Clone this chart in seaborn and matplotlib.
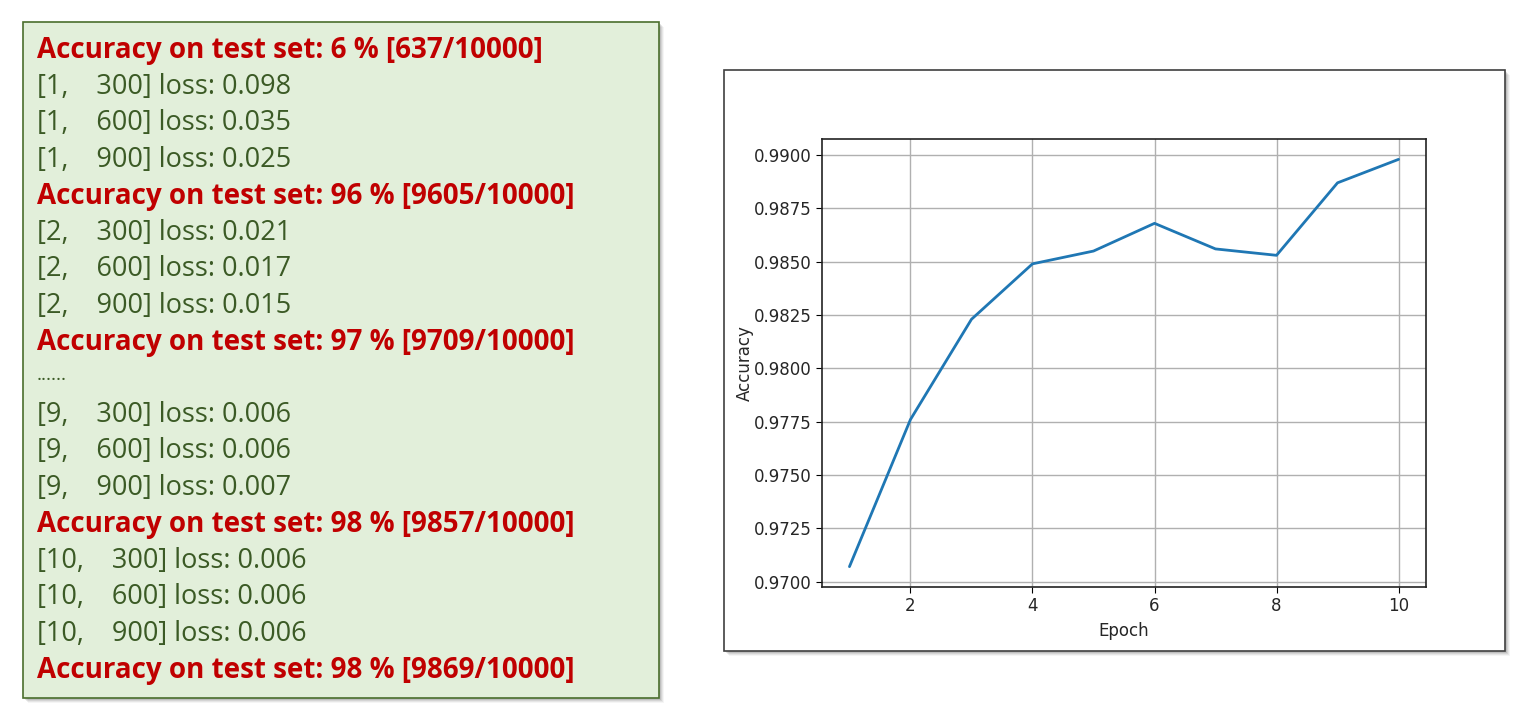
import matplotlib
matplotlib.use("Agg")
import matplotlib.pyplot as plt
import seaborn as sns
from matplotlib.patches import Rectangle

# Training log shown on the left
log_lines = [
    "Accuracy on test set: 6 % [637/10000]",
    "[1,    300] loss: 0.098",
    "[1,    600] loss: 0.035",
    "[1,    900] loss: 0.025",
    "Accuracy on test set: 96 % [9605/10000]",
    "[2,    300] loss: 0.021",
    "[2,    600] loss: 0.017",
    "[2,    900] loss: 0.015",
    "Accuracy on test set: 97 % [9709/10000]",
    "......",
    "[9,    300] loss: 0.006",
    "[9,    600] loss: 0.006",
    "[9,    900] loss: 0.007",
    "Accuracy on test set: 98 % [9857/10000]",
    "[10,    300] loss: 0.006",
    "[10,    600] loss: 0.006",
    "[10,    900] loss: 0.006",
    "Accuracy on test set: 98 % [9869/10000]",
]

# Accuracy curve
epochs = [1, 2, 3, 4, 5, 6, 7, 8, 9, 10]
accuracy = [0.9707, 0.9776, 0.9823, 0.9849, 0.9855, 0.9868, 0.9856, 0.9853, 0.9887, 0.9898]

sns.set_style("ticks")
plt.rcParams['font.family'] = ['DejaVu Sans']

W, H = 1536, 726
fig = plt.figure(figsize=(W / 100, H / 100), dpi=100)
fig.patch.set_facecolor("white")


def px_rect(x0, y0, x1, y1, **kw):
    # rectangle given in pixel coords (origin top-left)
    return Rectangle((x0 / W, 1 - y1 / H), (x1 - x0) / W, (y1 - y0) / H,
                     transform=fig.transFigure, **kw)


# soft shadows
for i, a in enumerate([0.10, 0.08, 0.06, 0.04]):
    off = 2 + i
    fig.patches.append(px_rect(23 + off, 22 + off, 659 + off, 698 + off,
                               facecolor="black", edgecolor="none", alpha=a, zorder=0))
    fig.patches.append(px_rect(724 + off, 70 + off, 1505 + off, 651 + off,
                               facecolor="black", edgecolor="none", alpha=a, zorder=0))

# left log box
fig.patches.append(px_rect(23, 22, 659, 698, facecolor="#e2efda",
                           edgecolor="#4a6e2c", linewidth=1.2, zorder=1))
# right chart box
fig.patches.append(px_rect(724, 70, 1505, 651, facecolor="white",
                           edgecolor="#404040", linewidth=1.2, zorder=1))

# log text
txt_font = ["Open Sans", "Noto Sans", "DejaVu Sans"]
y0, step = 50.5, 36.45
for i, line in enumerate(log_lines):
    y = y0 + i * step
    if line.startswith("Accuracy"):
        fig.text(37 / W, 1 - y / H, line, color="#c00000", fontsize=20,
                 fontweight="bold", va="center", ha="left",
                 family=txt_font, zorder=2)
    elif line.startswith("..."):
        fig.text(37 / W, 1 - (y - 4) / H, line, color="#3b5a25", fontsize=14,
                 va="center", ha="left", family=txt_font, zorder=2)
    else:
        fig.text(37 / W, 1 - y / H, line, color="#3b5a25", fontsize=19.5,
                 va="center", ha="left", family=txt_font, zorder=2)

# accuracy chart
ax = fig.add_axes([822 / W, 1 - 587 / H, 604 / W, 448 / H], zorder=3)
sns.lineplot(x=epochs, y=accuracy, ax=ax, color="#1f77b4", linewidth=2)
ax.margins(x=0.05, y=0.05)
ax.set_xticks([2, 4, 6, 8, 10])
ax.set_yticks([0.9700, 0.9725, 0.9750, 0.9775, 0.9800, 0.9825, 0.9850, 0.9875, 0.9900])
ax.yaxis.set_major_formatter(matplotlib.ticker.FormatStrFormatter("%.4f"))
ax.grid(True, color="#b0b0b0", linewidth=1)
ax.set_xlabel("Epoch", fontsize=12, labelpad=5)
ax.set_ylabel("Accuracy", fontsize=12, labelpad=0)
ax.tick_params(labelsize=12, length=4, color="black")
for s in ax.spines.values():
    s.set_visible(True)
    s.set_color("#222222")
    s.set_linewidth(1.2)

fig.savefig("out.png", dpi=100)
